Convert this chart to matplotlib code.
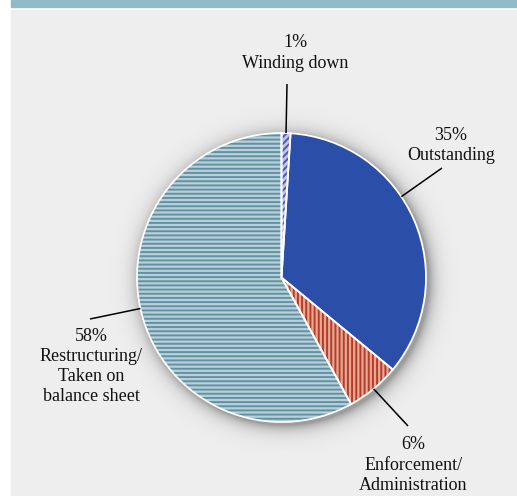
import numpy as np
import matplotlib.pyplot as plt
from matplotlib.patches import Rectangle, Wedge

# Shares of the portfolio by status (percent)
categories = ['Winding down', 'Outstanding', 'Enforcement/\nAdministration',
              'Restructuring/\nTaken on\nbalance sheet']
shares = [1, 35, 6, 58]
face_colors = ['#c3c3ea', '#2b4ea8', '#e3aa92', '#bccfd7']
stripe_colors = ['#4a5ab4', None, '#b9392a', '#5e92a7']
hatches = ['/////', None, '||||', '----']

W, H = 517, 496
cx, cy, r = 281.5, H - 277.5, 144.5

plt.rcParams['hatch.linewidth'] = 1.4

fig = plt.figure(figsize=(W / 100, H / 100), dpi=100)
ax = fig.add_axes([0, 0, 1, 1])

# frame: teal strip on top, light grey panel below
ax.add_patch(Rectangle((11, H - 7), W - 11, 7, color='#8fbcc6', zorder=0))
ax.add_patch(Rectangle((11, 0), W - 11, H - 10, color='#eeeeee', zorder=0))

# soft drop shadow under the pie
xx, yy = np.meshgrid(np.arange(W) + 0.5, np.arange(H) + 0.5)
dist = np.hypot(xx - (cx + 3), yy - (cy - 3)) - r
alpha = 0.34 * np.exp(-np.clip(dist, 0, None) / 7.0)
shadow = np.zeros((H, W, 4))
shadow[..., 3] = alpha
ax.imshow(shadow, extent=(0, W, 0, H), origin='lower', zorder=0.5,
          interpolation='bilinear')

wedges, _ = ax.pie(shares, startangle=90, counterclock=False,
                   center=(cx, cy), radius=r, colors=face_colors,
                   wedgeprops=dict(edgecolor='none', linewidth=0))

# stripe patterns on top of the fills, then white borders
for w, sc, ht in zip(wedges, stripe_colors, hatches):
    if ht:
        ax.add_patch(Wedge((cx, cy), r, w.theta1, w.theta2, facecolor='none',
                           edgecolor=sc, hatch=ht, linewidth=0, zorder=2))
    ax.add_patch(Wedge((cx, cy), r, w.theta1, w.theta2, facecolor='none',
                       edgecolor='white', linewidth=1.3, zorder=3))

# label text (centre of each block) and outer end of its leader line
label_pos = [(295, H - 53), (451, H - 145.5), (413.5, H - 465), (91.5, H - 366.5)]
leader_end = [(287, H - 84), (442, H - 168), (408, H - 426), (90, H - 319)]
angle_shift = [0, 10.6, 0, -2]

for w, share, name, (tx, ty), (lx, ly), da in zip(wedges, shares, categories,
                                                   label_pos, leader_end, angle_shift):
    mid = np.deg2rad((w.theta1 + w.theta2) / 2 + da)
    ex, ey = cx + r * np.cos(mid), cy + r * np.sin(mid)
    ax.plot([lx, ex], [ly, ey], color='black', lw=1.1, zorder=4,
            solid_capstyle='butt')
    ax.text(tx, ty, f'{share}%\n{name}', ha='center', va='center',
            fontsize=13, family='Liberation Serif', linespacing=1.24,
            color='#111111', zorder=5)

ax.set_xlim(0, W)
ax.set_ylim(0, H)
ax.set_aspect('auto')
ax.axis('off')

fig.savefig('out.png', dpi=100, facecolor='white')
